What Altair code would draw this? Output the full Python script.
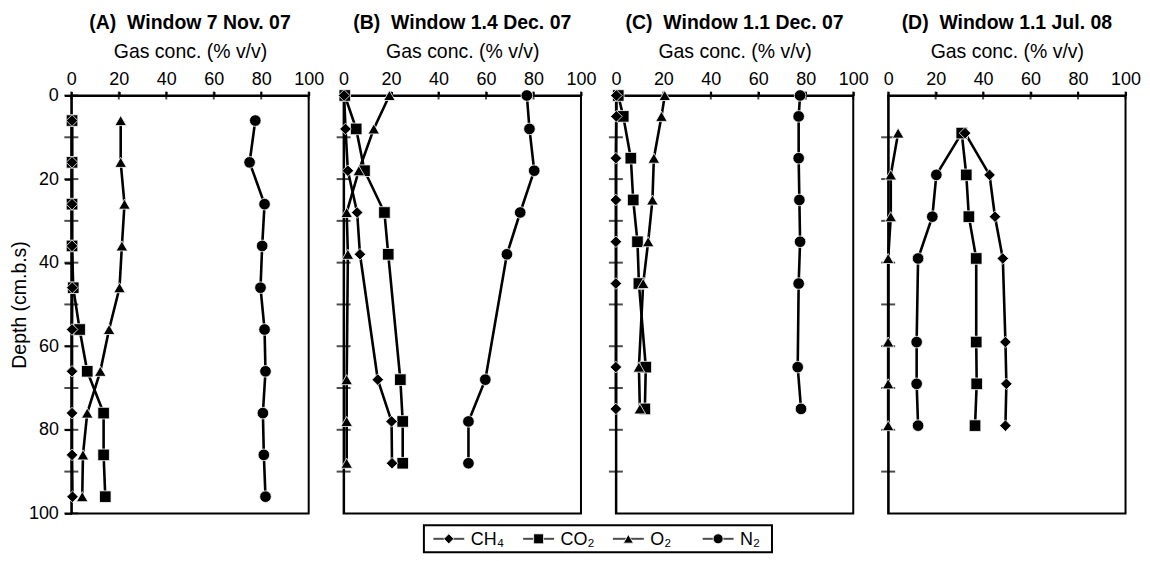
import altair as alt
import pandas as pd

FONT = "Liberation Sans"

# ---------------- data ----------------
gas_keys = ["CH4", "CO2", "O2", "N2"]
gas_labels = ["CH\u2084", "CO\u2082", "O\u2082", "N\u2082"]
gas_shapes = ["diamond", "square", "triangle-up", "circle"]

x_tick_values = [0, 20, 40, 60, 80, 100]
y_label_values = [0, 20, 40, 60, 80, 100]
y_tick_values_A = [0, 10, 20, 30, 40, 50, 60, 70, 80, 90, 100]
y_tick_values_other = [10, 20, 30, 40, 50, 60, 70, 80, 90]

# (A) Window 7 Nov. 07
depth_A = [6, 16, 26, 36, 46, 56, 66, 76, 86, 96]
ch4_A = [0.3, 0.3, 0.3, 0.3, 0.4, 0.3, 0.3, 0.3, 0.3, 0.5]
co2_A = [0.3, 0.3, 0.3, 0.3, 0.8, 3.5, 6.7, 13.6, 13.6, 14.3]
o2_A = [20.8, 20.8, 22.4, 21.3, 20.3, 15.9, 12.2, 6.7, 4.9, 4.6]
n2_A = [77.5, 75.1, 81.4, 80.4, 79.7, 81.4, 81.8, 80.7, 81.1, 81.8]

# (B) Window 1.4 Dec. 07
depth_B = [0, 8, 18, 28, 38, 68, 78, 88]
ch4_B = [0.2, 0.8, 1.8, 5.7, 6.9, 14.4, 20.2, 20.4]
co2_B = [0.5, 5.3, 8.8, 17.2, 18.8, 23.9, 24.9, 24.9]
o2_B = [19.3, 12.7, 6.4, 1.3, 1.8, 1.3, 1.3, 1.3]
n2_B = [77.2, 78.3, 80.3, 74.4, 68.8, 59.7, 52.6, 52.6]

# (C) Window 1.1 Dec. 07
depth_C = [0, 5, 15, 25, 35, 45, 65, 75]
ch4_C = [0.2, 0.2, 0.0, 0.0, 0.0, 0.0, 0.0, 0.0]
co2_C = [1.0, 3.1, 6.3, 7.3, 9.1, 9.7, 12.6, 12.2]
o2_C = [20.6, 19.2, 16.0, 15.4, 13.6, 11.5, 9.7, 10.1]
n2_C = [77.6, 77.0, 77.0, 77.3, 77.6, 77.0, 76.6, 78.0]

# (D) Window 1.1 Jul. 08
depth_D = [9, 19, 29, 39, 59, 69, 79]
ch4_D = [32.4, 42.7, 45.0, 48.3, 49.4, 49.8, 49.4]
co2_D = [31.0, 32.9, 34.0, 37.1, 37.1, 37.3, 36.6]
o2_D = [4.2, 1.1, 1.1, 0.0, 0.0, 0.0, 0.0]
n2_D = [31.0, 20.3, 18.6, 12.6, 12.0, 12.0, 12.6]

titles = ["(A)\u00a0 Window 7 Nov. 07", "(B)\u00a0 Window 1.4 Dec. 07",
          "(C)\u00a0 Window 1.1 Dec. 07", "(D)\u00a0 Window 1.1 Jul. 08"]

# draw order (bottom -> top)
z_order = {"N2": 0, "CO2": 1, "O2": 2, "CH4": 3}

shape_scale = alt.Scale(domain=gas_keys, range=gas_shapes)

LABEL_FS = 18
TITLE_FS = 19.5
HEAD_FS = 19.5
LW = 2


def make_panel(depths, series, title, first):
    rows = []
    for key, vals in zip(gas_keys, series):
        for d, v in zip(depths, vals):
            rows.append({"gas": key, "depth": d, "value": v, "z": z_order[key]})
    df = pd.DataFrame(rows)

    xs = alt.Scale(domain=[0, 100], nice=False, zero=False)
    ys = alt.Scale(domain=[0, 100], nice=False, zero=False, reverse=True)

    xax = alt.Axis(orient="top", values=x_tick_values, title="Gas conc. (% v/v)",
                   labelFont=FONT, titleFont=FONT, labelFontSize=LABEL_FS,
                   titleFontSize=TITLE_FS, titleFontWeight="normal",
                   labelColor="black", titleColor="black",
                   tickSize=4, tickWidth=LW, tickColor="black",
                   domainColor="black", domainWidth=LW, labelPadding=3,
                   titlePadding=9, grid=False, labelFlush=False)
    if first:
        yax = alt.Axis(values=y_label_values, title="Depth (cm.b.s)",
                       labelFont=FONT, titleFont=FONT, labelFontSize=LABEL_FS,
                       titleFontSize=TITLE_FS, titleFontWeight="normal",
                       labelColor="black", titleColor="black",
                       tickSize=7, tickWidth=LW, tickColor="black",
                       domainColor="black", domainWidth=LW, labelPadding=6,
                       titlePadding=-1, grid=False, labelFlush=False)
        ytv = y_tick_values_A
    else:
        yax = alt.Axis(labels=False, ticks=False, title=None, domainColor="black",
                       domainWidth=LW, grid=False)
        ytv = y_tick_values_other

    X = alt.X("value:Q", scale=xs, axis=xax)
    Y = alt.Y("depth:Q", scale=ys, axis=yax)

    lines = alt.Chart(df).mark_line(color="black", strokeWidth=2.6).encode(
        x=X, y=Y, detail="gas:N", order="depth:Q")

    pts = alt.Chart(df).mark_point(filled=True, size=135, color="black", opacity=1,
                                   stroke="white", strokeWidth=0.8).encode(
        x="value:Q", y="depth:Q",
        shape=alt.Shape("gas:N", scale=shape_scale, legend=None),
        order="z:Q")

    ytk = alt.Chart(pd.DataFrame({"depth": ytv})).mark_tick(
        orient="horizontal", size=14, thickness=LW, color="black").encode(
        x=alt.datum(0), y="depth:Q")

    xtk = alt.Chart(pd.DataFrame({"value": x_tick_values})).mark_tick(
        orient="vertical", size=8, thickness=LW, color="black").encode(
        x="value:Q", y=alt.datum(0))

    return alt.layer(lines, ytk, xtk, pts).properties(
        width=238, height=419,
        title=alt.TitleParams(title, font=FONT, fontSize=HEAD_FS, fontWeight="bold",
                              anchor="middle", offset=8, color="black"))


pA = make_panel(depth_A, [ch4_A, co2_A, o2_A, n2_A], titles[0], True)
pB = make_panel(depth_B, [ch4_B, co2_B, o2_B, n2_B], titles[1], False)
pC = make_panel(depth_C, [ch4_C, co2_C, o2_C, n2_C], titles[2], False)
pD = make_panel(depth_D, [ch4_D, co2_D, o2_D, n2_D], titles[3], False)

row = alt.hconcat(pA, pB, pC, pD, spacing=35, bounds="flush")

# ---------------- legend ----------------
leg_df = pd.DataFrame({"gas": gas_keys, "label": gas_labels,
                       "slot": list(range(len(gas_keys)))})
LX = alt.X("slot:Q", scale=alt.Scale(domain=[0, 3], range=[25, 295], nice=False,
                                     zero=False), axis=None)
LY = alt.Y(datum=0.5, scale=alt.Scale(domain=[0, 1]),
           axis=alt.Axis(orient="right", labels=False, ticks=False, title=None,
                         grid=False, domainOpacity=0, offset=16))

dash = alt.Chart(leg_df).mark_tick(orient="horizontal", size=31, thickness=2,
                                    color="black").encode(x=LX, y=LY)
sym = alt.Chart(leg_df).mark_point(filled=True, size=100, color="black", opacity=1,
                                   stroke="white", strokeWidth=0.8).encode(
    x=LX, y=LY,
    shape=alt.Shape("gas:N", scale=shape_scale, legend=None))
txt = alt.Chart(leg_df).mark_text(align="left", baseline="middle", dx=22, dy=1,
                                  font=FONT, fontSize=LABEL_FS, color="black").encode(
    x=LX, y=LY, text="label:N")

legend = alt.layer(dash, sym, txt).properties(width=349, height=27)

chart = alt.vconcat(row, legend, spacing=1, center=True).properties(
    padding={"left": 0, "top": 3, "right": 0, "bottom": 0}
).configure_view(stroke="black", strokeWidth=LW)

chart.save("out.html", embed_options={"renderer": "svg", "actions": False})
